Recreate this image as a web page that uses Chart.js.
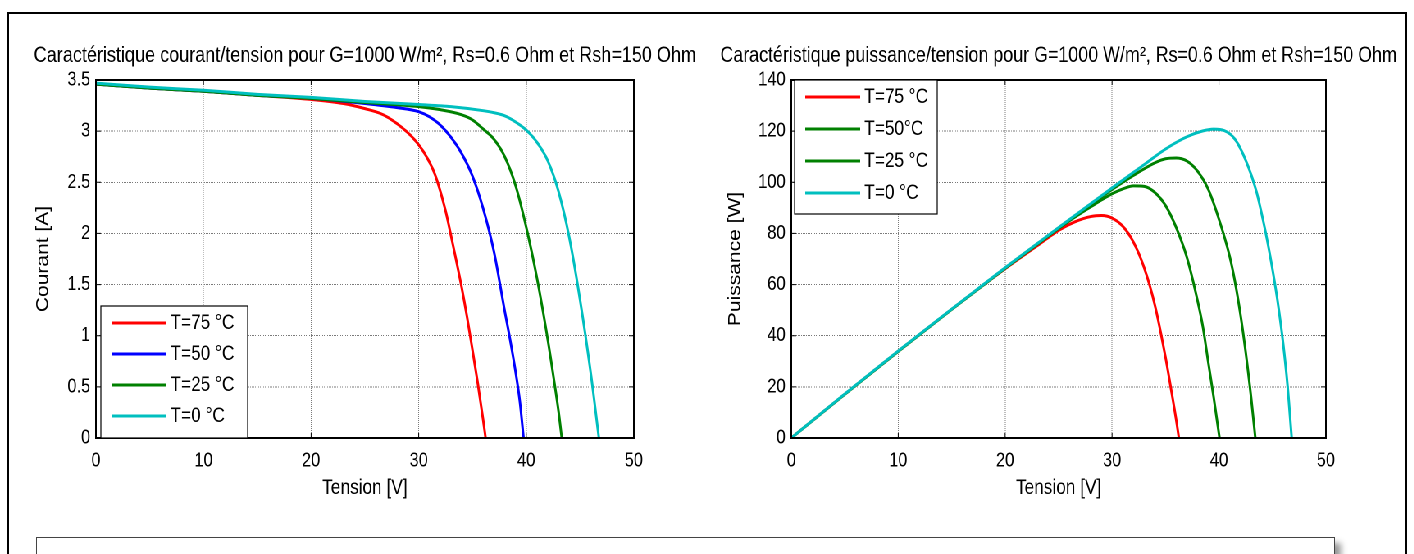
<!DOCTYPE html>
<html>
<head>
<meta charset="utf-8">
<script src="https://cdn.jsdelivr.net/npm/chart.js@4.4.1/dist/chart.umd.min.js"></script>
<style>
  body { margin: 0; background: #fff; width: 1414px; height: 554px; overflow: hidden; position: relative; }
  #cadre { position: absolute; left: 7px; top: 12px; width: 1400px; height: 600px; border: 2px solid #000; box-sizing: border-box; }
  #boite { position: absolute; left: 36px; top: 537px; width: 1297px; height: 60px; border: 1px solid #444; box-shadow: 6px 6px 6px #999; background: #fff; }
  /* le graphique d'origine est etire verticalement : on le comprime en largeur */
  #scene { position: absolute; left: 0; top: 0; width: 1708px; height: 520px; transform: scaleX(0.82); transform-origin: 0 0; }
  canvas { position: absolute; top: 0; width: 854px; height: 520px; }
</style>
</head>
<body>
<div id="cadre"></div>
<div id="boite"></div>
<div id="scene">
  <canvas id="ivChart" style="left:0"></canvas>
  <canvas id="pvChart" style="left:854px"></canvas>
</div>
<script>
var police = '"Liberation Sans", Arial, sans-serif';

var titreIV = 'Caractéristique courant/tension pour G=1000 W/m², Rs=0.6 Ohm et Rsh=150 Ohm';
var titrePV = 'Caractéristique puissance/tension pour G=1000 W/m², Rs=0.6 Ohm et Rsh=150 Ohm';

var tensionTicks = [0, 10, 20, 30, 40, 50];
var courantTicks = [0, 0.5, 1, 1.5, 2, 2.5, 3, 3.5];
var puissanceTicks = [0, 20, 40, 60, 80, 100, 120, 140];

var labelsIV = ['T=75 °C', 'T=50 °C', 'T=25 °C', 'T=0 °C'];
var labelsPV = ['T=75 °C', 'T=50°C', 'T=25 °C', 'T=0 °C'];
var couleursIV = ['#ff0000', '#0000ff', '#008000', '#00bfbf'];
var couleursPV = ['#ff0000', '#008000', '#008000', '#00bfbf'];

// courant / tension
var v75 = [0, 5, 10, 15, 20, 23, 25, 26.5, 27.5, 28.5, 29.5, 30.5, 31.5, 32.5, 33, 33.5, 34, 34.5, 35, 35.5, 36, 36.22];
var i75 = [3.46, 3.42, 3.39, 3.35, 3.31, 3.27, 3.22, 3.17, 3.11, 3.03, 2.93, 2.79, 2.58, 2.22, 1.98, 1.73, 1.47, 1.18, 0.86, 0.53, 0.17, 0];
var v50 = [0, 5, 10, 15, 20, 25, 28, 30, 31, 32, 33, 34, 35, 36, 37, 38, 38.5, 39, 39.4, 39.75];
var i50 = [3.46, 3.42, 3.39, 3.35, 3.32, 3.27, 3.23, 3.19, 3.14, 3.06, 2.94, 2.78, 2.56, 2.24, 1.82, 1.24, 0.96, 0.65, 0.36, 0];
var v25 = [0, 5, 10, 15, 20, 25, 30, 32, 34, 35, 36, 37, 38, 39, 40, 41, 42, 42.5, 43, 43.3];
var i25 = [3.46, 3.42, 3.39, 3.35, 3.32, 3.28, 3.24, 3.21, 3.16, 3.11, 3.02, 2.92, 2.75, 2.47, 2.06, 1.56, 0.96, 0.62, 0.26, 0];
var v0 = [0, 5, 10, 15, 20, 25, 30, 33, 36, 37, 38, 39, 40, 41, 42, 43, 44, 45, 46, 46.75];
var i0 = [3.47, 3.43, 3.4, 3.36, 3.33, 3.29, 3.26, 3.24, 3.2, 3.18, 3.15, 3.09, 3.01, 2.89, 2.71, 2.41, 1.96, 1.35, 0.63, 0];

// puissance / tension
var vp75 = [0, 5, 10, 15, 20, 23, 25, 26.5, 28, 29, 30, 31, 32, 33, 34, 35, 35.5, 36, 36.25];
var p75 = [0, 17.1, 33.9, 50.3, 66.2, 75.2, 81.2, 84.5, 86.6, 87, 86, 82.8, 76.6, 66.6, 52, 31.5, 19.5, 7, 0];
var vp50 = [0, 5, 10, 15, 20, 25, 28, 30, 31, 32, 33, 34, 35, 36, 37, 38, 38.5, 39, 39.5, 40.05];
var p50 = [0, 17.1, 33.9, 50.3, 66.4, 82, 90.4, 95.5, 97.4, 98.6, 98.4, 96, 90.9, 82.3, 70.6, 53.6, 43.3, 29.5, 16, 0];
var vp25 = [0, 5, 10, 15, 20, 25, 30, 32, 34, 35, 36, 37, 38, 39, 40, 41, 41.5, 42, 42.5, 43, 43.4];
var p25 = [0, 17.1, 33.9, 50.3, 66.4, 82, 97.2, 102.7, 107.6, 109.2, 109.5, 108.3, 104.3, 97.2, 85.5, 71, 61, 48.5, 33.5, 16, 0];
var vp0 = [0, 5, 10, 15, 20, 25, 30, 33, 35, 37, 38.5, 39.5, 40.5, 41.5, 42.5, 43.5, 44, 44.5, 45, 45.5, 46, 46.4, 46.8];
var p0 = [0, 17.2, 34, 50.4, 66.6, 82.3, 97.8, 106.9, 113, 117.8, 120.1, 120.8, 120.2, 116.8, 108.6, 96.4, 87.5, 77.5, 66, 53, 37, 21, 0];

Chart.defaults.font.family = police;
Chart.defaults.color = '#000';

function serie(label, couleur, xs, ys, ordre) {
  return {
    label: label,
    data: xs.map(function (x, k) { return { x: x, y: ys[k] }; }),
    borderColor: couleur,
    backgroundColor: couleur,
    borderWidth: 3,
    pointRadius: 0,
    fill: false,
    cubicInterpolationMode: 'monotone',
    order: ordre
  };
}

// cadre, graduations internes, titre et legende facon matlab
var pluginMatlab = {
  id: 'matlab',
  afterDatasetsDraw: function (chart, args, opts) {
    var ctx = chart.ctx, a = chart.chartArea;
    var sx = chart.scales.x, sy = chart.scales.y;
    ctx.save();
    ctx.strokeStyle = '#000';
    ctx.lineWidth = 1;
    ctx.beginPath();
    sx.ticks.forEach(function (t) {
      var px = sx.getPixelForValue(t.value);
      ctx.moveTo(px, a.bottom); ctx.lineTo(px, a.bottom - 5);
      ctx.moveTo(px, a.top); ctx.lineTo(px, a.top + 5);
    });
    sy.ticks.forEach(function (t) {
      var py = sy.getPixelForValue(t.value);
      ctx.moveTo(a.left, py); ctx.lineTo(a.left + 6, py);
      ctx.moveTo(a.right, py); ctx.lineTo(a.right - 6, py);
    });
    ctx.stroke();
    ctx.lineWidth = 2;
    ctx.strokeRect(a.left, a.top, a.right - a.left, a.bottom - a.top);

    var lg = opts.legende;
    var x0 = a.left + lg.dx;
    var y0 = lg.enHaut ? a.top : a.bottom - lg.h;
    ctx.fillStyle = '#fff';
    ctx.fillRect(x0, y0, lg.w, lg.h);
    ctx.lineWidth = 1.2;
    ctx.strokeStyle = '#000';
    ctx.strokeRect(x0, y0, lg.w, lg.h);
    ctx.font = lg.taille + 'px ' + police;
    ctx.textBaseline = 'middle';
    ctx.textAlign = 'left';
    chart.data.datasets.forEach(function (ds, k) {
      var y = y0 + lg.premier + k * lg.pas;
      ctx.strokeStyle = ds.borderColor;
      ctx.lineWidth = 3;
      ctx.beginPath();
      ctx.moveTo(x0 + 13, y);
      ctx.lineTo(x0 + 80, y);
      ctx.stroke();
      ctx.fillStyle = '#000';
      ctx.fillText(ds.label, x0 + 85, y);
    });

    ctx.font = '22px ' + police;
    ctx.textAlign = 'center';
    ctx.fillStyle = '#000';
    ctx.fillText(opts.titre, (a.left + a.right) / 2, 56, 825);
    ctx.restore();
  }
};

function options(yMin, yMax, yTicks, yTitre, largeurY, decalTitreY, padDroite, legende, titre) {
  return {
    responsive: false,
    animation: false,
    devicePixelRatio: 2,
    layout: { padding: { top: 80, left: 0, right: padDroite, bottom: 0 } },
    plugins: {
      legend: { display: false },
      tooltip: { enabled: false },
      matlab: { legende: legende, titre: titre }
    },
    scales: {
      x: {
        type: 'linear', min: 0, max: 50,
        afterBuildTicks: function (s) { s.ticks = tensionTicks.map(function (v) { return { value: v }; }); },
        afterFit: function (s) { s.height = 82; },
        grid: { color: '#7a7a7a', drawTicks: false },
        border: { display: false, dash: [1, 1] },
        ticks: { padding: 11, font: { size: 20 }, color: '#000', maxRotation: 0, callback: function (v) { return String(v); } },
        title: { display: true, text: 'Tension [V]', font: { size: 21 }, color: '#000', padding: { top: 0, bottom: 19 } }
      },
      y: {
        type: 'linear', min: yMin, max: yMax,
        afterBuildTicks: function (s) { s.ticks = yTicks.map(function (v) { return { value: v }; }); },
        afterFit: function (s) { s.width = largeurY; },
        grid: { color: '#7a7a7a', drawTicks: false },
        border: { display: false, dash: [1, 1] },
        ticks: { padding: 7, font: { size: 20 }, color: '#000', callback: function (v) { return String(v); } },
        title: { display: true, text: yTitre, font: { size: 21 }, color: '#000', padding: { top: decalTitreY, bottom: 0 } }
      }
    }
  };
}

function graphique(id, labels, couleurs, series, opts) {
  var c = document.getElementById(id);
  c.width = 854;
  c.height = 520;
  return new Chart(c.getContext('2d'), {
    type: 'line',
    data: {
      datasets: series.map(function (s, k) {
        return serie(labels[k], couleurs[k], s[0], s[1], series.length - k);
      })
    },
    options: opts,
    plugins: [pluginMatlab]
  });
}

graphique('ivChart', labelsIV, couleursIV,
  [[v75, i75], [v50, i50], [v25, i25], [v0, i0]],
  options(0, 3.5, courantTicks, 'Courant [A]', 117, 40, 81,
    { enHaut: false, dx: 6, w: 179, h: 132, premier: 17, pas: 31, taille: 21 }, titreIV));

graphique('pvChart', labelsPV, couleursPV,
  [[vp75, p75], [vp50, p50], [vp25, p25], [vp0, p0]],
  options(0, 140, puissanceTicks, 'Puissance [W]', 111, 30, 91,
    { enHaut: true, dx: 4, w: 174, h: 134, premier: 17, pas: 32, taille: 21 }, titrePV));
</script>
</body>
</html>
